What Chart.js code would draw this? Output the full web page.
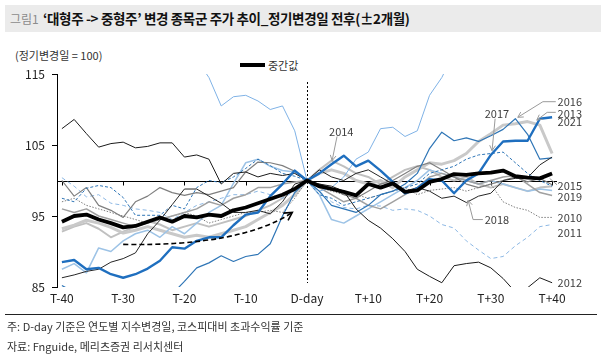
<!DOCTYPE html>
<html><head><meta charset="utf-8">
<script src="https://cdn.jsdelivr.net/npm/chart.js@4"></script>
<style>
body{margin:0;width:601px;height:356px;position:relative;background:#fff;overflow:hidden;font-family:"Noto Sans CJK KR","Noto Sans",sans-serif;color:#222}
#bar{position:absolute;left:5px;top:5px;width:596px;height:27px;background:#ebebeb}
#fig{position:absolute;left:10px;top:5px;line-height:27px;font-size:12px;color:#8c8c8c}
#ttl{position:absolute;left:43px;top:5px;line-height:27px;font-size:13.5px;font-weight:bold;color:#111;letter-spacing:-0.35px}
#unit{position:absolute;left:15px;top:47px;line-height:16px;font-size:11px;color:#333}
#legLine{position:absolute;left:240px;top:63px;width:25px;height:4px;background:#000}
#legTxt{position:absolute;left:268px;top:57px;line-height:16px;font-size:11px;color:#333}
#rule{position:absolute;left:5px;top:314px;width:592px;height:1px;background:#222}
.note{position:absolute;left:7px;line-height:16px;font-size:11px;color:#333}
canvas{position:absolute;left:0;top:0}
</style></head>
<body>
<div id="bar"></div>
<div id="fig">그림1</div>
<div id="ttl">‘대형주 -&gt; 중형주’ 변경 종목군 주가 추이_정기변경일 전후(±2개월)</div>
<div id="unit">(정기변경일 = 100)</div>
<div id="legLine"></div>
<div id="legTxt">중간값</div>
<canvas id="c" width="601" height="356"></canvas>
<div id="rule"></div>
<div class="note" style="top:318px">주: D-day 기준은 연도별 지수변경일, 코스피대비 초과수익률 기준</div>
<div class="note" style="top:338px">자료: Fnguide, 메리츠증권 리서치센터</div>
<script>
// ---- data ----
const days = [-40,-38,-36,-34,-32,-30,-28,-26,-24,-22,-20,-18,-16,-14,-12,-10,-8,-6,-4,-2,0,2,4,6,8,10,12,14,16,18,20,22,24,26,28,30,32,34,36,38,40];
const xTicks = [-40,-30,-20,-10,0,10,20,30,40];
const xTickLabels = ['T-40','T-30','T-20','T-10','D-day','T+10','T+20','T+30','T+40'];
const yTicks = [85,95,105,115];
const baseValue = 100;

const median = [94.2,95.0,95.2,94.5,94.0,93.4,93.6,94.2,94.8,94.2,95.0,94.8,95.2,95.0,95.8,96.2,96.8,97.4,98.0,98.8,100,99.2,98.8,98.4,97.9,99.5,99.0,99.6,98.4,98.6,99.8,100.2,100.9,100.8,101.0,101.1,101.4,100.6,100.4,100.3,101.0];
const y2010 = [97.0,97.5,96.5,96.0,95.5,95.0,94.5,94.0,94.5,95.0,95.5,95.0,94.0,94.5,95.0,95.5,95.5,95.8,95.5,97.5,100,99.0,98.5,98.0,98.0,97.5,98.0,98.5,99.0,98.0,98.6,98.8,99.0,98.5,99.0,99.5,97.0,96.2,95.8,94.8,94.8];
const y2011 = [100.4,99.2,97.7,98.0,96.8,96.5,96.0,95.8,95.5,94.5,95.5,96.5,97.0,97.5,98.0,98.0,98.5,98.0,97.5,98.5,100,98.5,97.0,96.2,96.0,96.5,96.4,95.8,96.0,95.8,95.0,93.8,93.3,91.5,90.2,89.0,89.3,90.8,92.0,93.5,93.8];
const y2012 = [107.3,108.6,106.6,104.7,105.2,105.4,104.6,104.8,105.3,105.3,103.3,103.6,103.0,99.5,101.0,101.2,100.5,101.0,100.7,101.0,100,99.5,99.2,98.5,96.0,94.4,93.3,91.8,90.0,87.5,86.5,85.6,88.0,88.3,88.5,87.7,86.2,84.3,84.9,86.3,85.6];
const y2013 = [93.2,93.7,94.4,94.0,93.4,92.6,93.0,93.5,93.0,92.5,92.0,92.3,92.0,92.5,93.0,93.5,94.5,95.5,96.5,98.0,100,101.0,101.5,101.0,100.0,99.5,100.0,99.0,100.5,101.5,102.5,102.3,102.8,103.8,105.5,106.6,107.8,108.0,108.3,107.8,103.8];
const y2014 = [92.8,93.5,94.0,93.2,92.0,92.8,93.5,94.3,93.8,93.0,93.5,94.0,93.5,94.0,94.5,95.0,95.8,96.5,97.5,99.0,100,101.5,102.8,102.0,101.0,100.5,99.5,100.5,101.5,102.0,101.5,100.5,100.0,100.5,99.5,99.0,99.5,99.0,98.5,99.0,99.2];
const y2015 = [100.0,97.8,99.0,96.5,95.8,94.8,97.0,97.8,99.0,98.3,97.9,98.3,98.0,98.5,99.0,101.2,102.6,102.5,102.1,101.3,100,99.5,99.0,98.0,97.5,98.5,99.5,100.0,101.0,102.0,102.5,101.5,100.5,99.5,99.0,99.5,100.0,100.5,99.8,100.3,99.4];
const y2016 = [85.2,84.3,83.5,83.0,82.5,82.5,83.0,83.0,83.5,84.0,85.8,87.7,88.4,89.4,88.6,89.3,89.6,91.1,95.0,98.3,100,98.5,96.5,96.0,95.5,96.5,98.0,98.5,99.5,101.0,104.5,106.8,105.6,106.0,105.5,106.3,107.2,108.7,106.5,103.0,103.2];
const y2017 = [97.5,97.0,98.9,99.3,99.0,97.6,95.1,95.1,95.1,96.5,96.0,99.0,100.0,99.7,100.5,101.7,103.0,102.1,101.0,100.6,100,98.0,97.5,96.5,97.0,97.5,98.0,98.5,99.0,99.5,101.0,101.5,102.0,103.0,103.6,103.8,104.0,102.5,101.0,100.0,99.2];
const y2018 = [86.3,86.7,87.2,87.5,88.5,89.0,89.8,92.5,94.4,96.6,98.8,98.8,97.8,96.8,95.5,95.5,95.8,95.3,97.0,99.5,100,101.5,100.5,100.0,101.0,101.5,100.5,99.5,98.5,99.0,98.5,97.5,97.8,96.9,97.8,98.2,100.0,100.3,100.4,102.2,103.3];
const y2019 = [96.0,95.5,96.0,95.0,94.5,94.0,93.5,94.0,94.5,95.0,95.5,96.0,97.0,96.5,97.5,98.0,99.0,99.0,99.5,99.8,100,99.0,98.0,97.0,97.5,96.5,96.0,97.0,98.0,99.0,100.5,101.0,100.5,100.0,99.5,100.0,100.5,100.7,99.5,98.3,97.9];
const y2020 = [119,119,119,119,119,119,119,119,119,119,118,117,114.5,110.5,111.8,112.0,111.2,110.0,110.5,107.0,100,98.5,99.0,100.5,103.0,104.0,107.3,107.5,106.2,107.0,112.0,114.5,118,119,119,120,120,120,120,120,120];
const y2021 = [88.5,88.8,87.5,87.7,86.8,86.3,86.8,87.6,88.7,90.6,90.4,91.5,92.0,92.0,93.7,95.2,95.5,97.8,99.5,101.4,100,101.0,102.3,103.5,102.0,102.8,101.4,99.8,98.2,98.9,100.2,100.0,98.2,100.0,101.0,103.6,105.5,105.6,105.6,108.7,108.9];
const unlabeled = [87.5,88.3,87.0,90.5,90.0,91.5,92.5,93.0,92.0,93.5,92.5,94.0,95.5,96.5,99.6,102.5,103.0,102.0,101.4,101.2,100,98.0,94.5,94.0,95.0,96.0,97.0,98.0,99.0,100.0,101.5,101.0,100.5,100.0,99.5,100.0,99.5,99.0,98.5,98.8,98.6];

// year labels: text, anchor day, anchor value
const labelText = ['2016','2013','2021','2017','2014','2015','2019','2018','2010','2011','2012'];
const labelDay  = [40.9,40.9,40.9,29.0,3.6,40.9,40.9,29.0,40.9,40.9,40.9];
const labelVal  = [111.1,109.4,108.2,109.4,106.9,99.3,97.7,94.5,94.8,92.7,85.6];
// leader lines (day,value pairs), arrow at the last point
const leaders = [
  {d:[40.6,38.5,34.4], v:[111.1,111.1,108.9], arrow:true},
  {d:[40.6,39.2,37.5], v:[109.6,109.6,108.5], arrow:true},
  {d:[30.7,30.2], v:[108.7,104.2], arrow:true},
  {d:[4.9,4.1], v:[106.2,102.8], arrow:true},
  {d:[28.7,27.1,26.3], v:[94.5,94.5,97.2], arrow:true},
  {d:[39.6,40.8], v:[100.3,99.4], arrow:false}
];
// trend arrow (quadratic): start, control, end
const trendDay = [-30.0,-10.9,-2.4];
const trendVal = [91.0,90.7,95.5];

// ---- chart ----
const mk = (arr) => days.map((d,i)=>({x:d,y:arr[i]}));
const ds = (label, arr, color, width, dash) => ({label, data: mk(arr), borderColor: color, borderWidth: width, borderDash: dash||[], pointRadius:0, fill:false, tension:0, borderJoinStyle:'round'});

const datasets = [
  ds('중간값', median, '#000000', 3.8),
  ds('2021', y2021, '#1f6fbf', 2.4),
  ds('2012', y2012, '#1a1a1a', 1),
  ds('2018', y2018, '#262626', 1),
  ds('2016', y2016, '#2e75b6', 1.2),
  ds('2017', y2017, '#2e75b6', 1, [3,2]),
  ds('2020', y2020, '#7fb2e6', 1),
  ds('2015', y2015, '#7f7f7f', 1.2),
  ds('2019', y2019, '#a0a0a0', 1.5),
  ds('2010', y2010, '#7f7f7f', 1, [1.5,1.5]),
  ds('2011', y2011, '#8db8e4', 1, [4,3]),
  ds('', unlabeled, '#9dc3e6', 1.5),
  ds('2013', y2013, '#c9c9c9', 3),
  ds('2014', y2014, '#c0c0c0', 2)
];

function arrowHead(ctx, x0, y0, x1, y1, size){
  const ang = Math.atan2(y1-y0, x1-x0);
  ctx.beginPath();
  ctx.moveTo(x1 - size*Math.cos(ang-0.5), y1 - size*Math.sin(ang-0.5));
  ctx.lineTo(x1, y1);
  ctx.lineTo(x1 - size*Math.cos(ang+0.5), y1 - size*Math.sin(ang+0.5));
  ctx.stroke();
}

const overlay = {
  id:'overlay',
  beforeDatasetsDraw(chart){
    const {ctx, chartArea:a, scales:{x,y}} = chart;
    ctx.save();
    ctx.strokeStyle = '#000'; ctx.lineWidth = 1;
    const yb = Math.round(y.getPixelForValue(baseValue)) + 0.5;
    ctx.beginPath(); ctx.moveTo(a.left, yb); ctx.lineTo(a.right, yb); ctx.stroke();
    xTicks.forEach(v=>{
      if (v === 0) return;
      const px = Math.round(x.getPixelForValue(v)) + 0.5;
      ctx.beginPath(); ctx.moveTo(px, yb); ctx.lineTo(px, yb+4); ctx.stroke();
    });
    const xd = Math.round(x.getPixelForValue(0)) + 0.5;
    ctx.setLineDash([2,2]);
    ctx.beginPath(); ctx.moveTo(xd, a.top+8); ctx.lineTo(xd, a.bottom-4); ctx.stroke();
    ctx.restore();
  },
  afterDatasetsDraw(chart){
    const {ctx, scales:{x,y}} = chart;
    ctx.save();
    const p = trendDay.map((d,i)=>[x.getPixelForValue(d), y.getPixelForValue(trendVal[i])]);
    ctx.strokeStyle = '#000'; ctx.lineWidth = 1.6; ctx.setLineDash([5,3]);
    ctx.beginPath(); ctx.moveTo(p[0][0],p[0][1]); ctx.quadraticCurveTo(p[1][0],p[1][1],p[2][0],p[2][1]); ctx.stroke();
    ctx.setLineDash([]);
    arrowHead(ctx, p[1][0], p[1][1], p[2][0], p[2][1], 9);
    ctx.strokeStyle = '#9a9a9a'; ctx.lineWidth = 1;
    leaders.forEach(l=>{
      const pts = l.d.map((d,i)=>[x.getPixelForValue(d), y.getPixelForValue(l.v[i])]);
      ctx.beginPath(); ctx.moveTo(pts[0][0],pts[0][1]);
      for (let i=1;i<pts.length;i++) ctx.lineTo(pts[i][0],pts[i][1]);
      ctx.stroke();
      if (l.arrow){ const n=pts.length; arrowHead(ctx, pts[n-2][0],pts[n-2][1],pts[n-1][0],pts[n-1][1],6); }
    });
    ctx.fillStyle = '#404040';
    ctx.font = '11px "Noto Sans CJK KR","Noto Sans",sans-serif';
    ctx.textAlign = 'left'; ctx.textBaseline = 'middle';
    labelText.forEach((t,i)=>{
      ctx.fillText(t, x.getPixelForValue(labelDay[i]), y.getPixelForValue(labelVal[i]));
    });
    ctx.restore();
  }
};

new Chart(document.getElementById('c'), {
  type:'line',
  data:{datasets},
  options:{
    responsive:false, animation:false, devicePixelRatio:1,
    layout:{padding:{top:74,right:44,left:0,bottom:0}},
    plugins:{legend:{display:false}, tooltip:{enabled:false}},
    scales:{
      x:{type:'linear', min:-40.8, max:40.8,
        afterBuildTicks:(s)=>{ s.ticks = xTicks.map(v=>({value:v})); },
        afterFit:(s)=>{ s.height = 69; },
        grid:{display:false, drawTicks:false}, border:{display:false},
        ticks:{padding:4, color:'#222', font:{size:12, family:'"Noto Sans CJK KR","Noto Sans",sans-serif'}, maxRotation:0, autoSkip:false,
          callback:(v,i)=>xTickLabels[i]}
      },
      y:{min:85, max:115,
        afterBuildTicks:(s)=>{ s.ticks = yTicks.map(v=>({value:v})); },
        afterFit:(s)=>{ s.width = 57; },
        grid:{drawOnChartArea:false, drawTicks:true, tickLength:5, color:'#000'},
        border:{display:true, color:'#000', width:1},
        ticks:{padding:7, color:'#222', font:{size:12, family:'"Noto Sans CJK KR","Noto Sans",sans-serif'}}
      }
    }
  },
  plugins:[overlay]
});
</script>
</body></html>
